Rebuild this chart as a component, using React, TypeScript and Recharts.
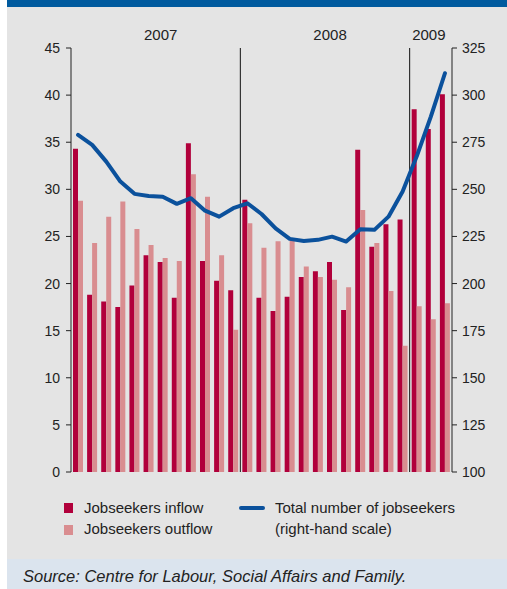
import React from 'react';
import { ComposedChart, Bar, Line, XAxis, YAxis, ReferenceLine } from 'recharts';

// Monthly categories, Jan 2007 – Mar 2009
const months = [
  '2007-01', '2007-02', '2007-03', '2007-04', '2007-05', '2007-06',
  '2007-07', '2007-08', '2007-09', '2007-10', '2007-11', '2007-12',
  '2008-01', '2008-02', '2008-03', '2008-04', '2008-05', '2008-06',
  '2008-07', '2008-08', '2008-09', '2008-10', '2008-11', '2008-12',
  '2009-01', '2009-02', '2009-03',
];

// thousands of persons per month (left scale)
const inflow = [
  34.3, 18.8, 18.1, 17.5, 19.8, 23.0, 22.3, 18.5, 34.9, 22.4, 20.3, 19.3,
  28.9, 18.5, 17.1, 18.6, 20.7, 21.3, 22.3, 17.2, 34.2, 23.9, 26.3, 26.8,
  38.5, 36.4, 40.1,
];
const outflow = [
  28.8, 24.3, 27.1, 28.7, 25.8, 24.1, 22.7, 22.4, 31.6, 29.2, 23.0, 15.1,
  26.4, 23.8, 24.5, 24.6, 21.8, 20.7, 20.4, 19.6, 27.8, 24.3, 19.2, 13.4,
  17.6, 16.2, 17.9,
];

// thousands of persons (right scale)
const total = [
  278.9, 273.6, 264.7, 254.1, 247.6, 246.5, 246.1, 242.3, 245.3, 238.7, 235.5, 240.0,
  242.6, 236.9, 229.3, 223.7, 222.6, 223.2, 224.9, 222.3, 228.8, 228.5, 235.5, 248.8,
  267.5, 288.6, 311.6,
];

const leftTicks = [0, 5, 10, 15, 20, 25, 30, 35, 40, 45];
const rightTicks = [100, 125, 150, 175, 200, 225, 250, 275, 300, 325];
const yearTicks = ['2007-07', '2008-07', '2009-02'];
const yearStarts = ['2008-01', '2009-01'];

const data = months.map((m, i) => ({
  month: m,
  inflow: inflow[i],
  outflow: outflow[i],
  total: total[i],
}));

const INFLOW = '#b1003b';
const OUTFLOW = '#d98d90';
const TOTAL = '#0b519c';
const FONT = '"Liberation Sans", Arial, sans-serif';
const INK = '#222';

const tickStyle = { fill: INK, fontSize: 14, fontFamily: FONT };

export default function App() {
  return (
    <div style={{ position: 'absolute', left: 0, top: 0, width: 507, height: 589, background: '#fff', overflow: 'hidden' }}>
      <div style={{ position: 'absolute', left: 7, top: 0, right: 0, height: 7, background: '#005a9e' }} />
      <div style={{ position: 'absolute', left: 7, top: 7, right: 0, height: 552, background: '#e4e4e4' }} />
      <div style={{ position: 'absolute', left: 7, top: 559, right: 0, bottom: 0, background: '#dbe4ee' }} />

      <div style={{ position: 'absolute', left: 0, top: 0 }}>
        <ComposedChart
          width={507}
          height={480}
          data={data}
          margin={{ top: 18, right: 0, bottom: 8, left: 0 }}
          barGap={0}
          barSize={5}
        >
          <XAxis
            xAxisId="main"
            dataKey="month"
            height={0}
            tick={false}
            tickLine={false}
            axisLine={{ stroke: INK, strokeWidth: 1 }}
          />
          <XAxis
            xAxisId="year"
            dataKey="month"
            orientation="top"
            height={30}
            ticks={yearTicks}
            interval={0}
            tickFormatter={(m: string) => m.slice(0, 4)}
            axisLine={false}
            tickLine={false}
            tickMargin={2}
            tick={{ ...tickStyle, fontSize: 15, dx: -2 }}
          />
          <YAxis
            yAxisId="left"
            width={71}
            domain={[0, 45]}
            ticks={leftTicks}
            interval={0}
            tickSize={5}
            tickMargin={6}
            axisLine={{ stroke: INK }}
            tickLine={{ stroke: INK }}
            tick={tickStyle}
          />
          <YAxis
            yAxisId="right"
            orientation="right"
            width={55}
            domain={[100, 325]}
            ticks={rightTicks}
            interval={0}
            tickSize={5}
            tickMargin={5}
            axisLine={{ stroke: INK }}
            tickLine={{ stroke: INK }}
            tick={tickStyle}
          />
          {yearStarts.map((m) => (
            <ReferenceLine
              key={m}
              xAxisId="main"
              yAxisId="left"
              x={m}
              position="start"
              stroke="#111"
              strokeWidth={1}
            />
          ))}
          <Bar xAxisId="main" yAxisId="left" dataKey="inflow" fill={INFLOW} isAnimationActive={false} />
          <Bar xAxisId="main" yAxisId="left" dataKey="outflow" fill={OUTFLOW} isAnimationActive={false} />
          <Line
            xAxisId="main"
            yAxisId="right"
            type="linear"
            dataKey="total"
            stroke={TOTAL}
            strokeWidth={4}
            strokeLinejoin="round"
            strokeLinecap="round"
            dot={false}
            isAnimationActive={false}
          />
        </ComposedChart>
      </div>

      {/* legend */}
      <div style={{ position: 'absolute', left: 0, top: 0, fontFamily: FONT, fontSize: 15, color: INK }}>
        <div style={{ position: 'absolute', left: 64, top: 503, width: 9, height: 10, background: INFLOW }} />
        <div style={{ position: 'absolute', left: 84, top: 499, whiteSpace: 'nowrap' }}>Jobseekers inflow</div>
        <div style={{ position: 'absolute', left: 64, top: 525, width: 9, height: 10, background: OUTFLOW }} />
        <div style={{ position: 'absolute', left: 84, top: 520, whiteSpace: 'nowrap' }}>Jobseekers outflow</div>
        <div style={{ position: 'absolute', left: 239, top: 506, width: 26, height: 4, background: TOTAL, borderRadius: 2 }} />
        <div style={{ position: 'absolute', left: 275, top: 499, whiteSpace: 'nowrap' }}>Total number of jobseekers</div>
        <div style={{ position: 'absolute', left: 275, top: 520, whiteSpace: 'nowrap' }}>(right-hand scale)</div>
      </div>

      <div
        style={{
          position: 'absolute',
          left: 23,
          top: 567,
          fontFamily: FONT,
          fontStyle: 'italic',
          fontSize: 16.5,
          color: INK,
          whiteSpace: 'nowrap',
        }}
      >
        Source: Centre for Labour, Social Affairs and Family.
      </div>
    </div>
  );
}
